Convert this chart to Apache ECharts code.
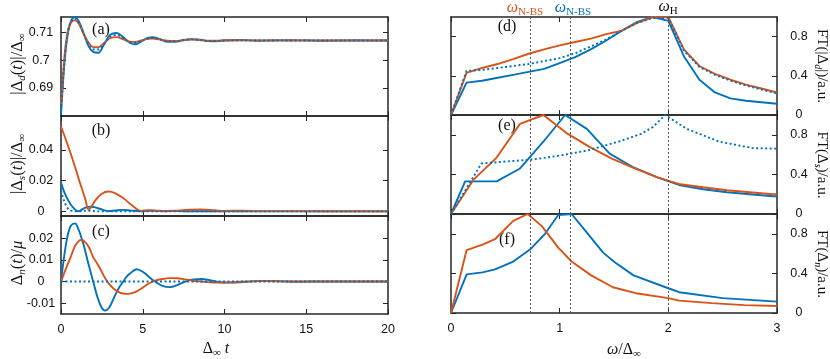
<!DOCTYPE html>
<html>
<head>
<meta charset="utf-8">
<script src="https://cdn.jsdelivr.net/npm/echarts@6/dist/echarts.min.js"></script>
<style>
  html, body { margin: 0; padding: 0; background: #fff; }
  #chart { width: 830px; height: 359px; }
</style>
</head>
<body>
<div id="chart"></div>
<script>
// ---- data ----
// tick labels
const tTicks = [0, 5, 10, 15, 20];
const wTicks = [0, 1, 2, 3];
const aTicks = [0.69, 0.7, 0.71];
const bTicks = [0, 0.02, 0.04];
const cTicks = [-0.01, 0, 0.01, 0.02];
const ftTicks = [0, 0.4, 0.8];
const freqMarks = [0.735, 1.105, 2]; // omega N-BS (orange), omega N-BS (blue), omega H

// (a) |Delta_d(t)|/Delta_inf
const aT = [0, 0.1, 0.25, 0.45, 0.65, 0.86, 1.1, 1.4, 1.7, 2.0, 2.28, 2.6, 3.0, 3.4, 3.8, 4.2, 4.52, 4.9, 5.3, 5.6, 6.0, 6.5, 7.0, 7.5, 8.0, 8.5, 9.0, 9.5, 10, 11, 12, 13, 14, 15, 16, 17, 18, 19, 20];
const aBlue = [0.6805, 0.690, 0.7015, 0.7105, 0.7145, 0.7153, 0.7137, 0.7093, 0.7048, 0.7028, 0.7026, 0.7052, 0.709, 0.7097, 0.7082, 0.7062, 0.7056, 0.7066, 0.7079, 0.7082, 0.7076, 0.7065, 0.7065, 0.7072, 0.7075, 0.7073, 0.7068, 0.7067, 0.707, 0.7072, 0.7069, 0.707, 0.7071, 0.707, 0.7069, 0.707, 0.707, 0.707, 0.707];
const aBlueDot = [0.682, 0.691, 0.7025, 0.711, 0.714, 0.7148, 0.7133, 0.7092, 0.7055, 0.7038, 0.7038, 0.7056, 0.7083, 0.709, 0.7078, 0.7064, 0.7061, 0.7068, 0.7077, 0.7079, 0.7075, 0.7067, 0.7067, 0.7072, 0.7074, 0.7072, 0.7068, 0.7068, 0.707, 0.7071, 0.707, 0.707, 0.707, 0.707, 0.707, 0.707, 0.707, 0.707, 0.707];
const aOrange = [0.6835, 0.692, 0.7035, 0.711, 0.7137, 0.7142, 0.7129, 0.7092, 0.7061, 0.7046, 0.7046, 0.7059, 0.7078, 0.7082, 0.7074, 0.7066, 0.7065, 0.707, 0.7076, 0.7077, 0.7074, 0.7069, 0.7068, 0.7071, 0.7073, 0.7072, 0.7069, 0.7069, 0.7071, 0.7071, 0.707, 0.7071, 0.707, 0.7071, 0.707, 0.707, 0.7071, 0.707, 0.7071];

// (b) |Delta_s(t)|/Delta_inf
const bT = [0, 0.2, 0.45, 0.7, 0.96, 1.1, 1.27, 1.5, 1.67, 1.85, 2.1, 2.5, 2.9, 3.3, 3.8, 4.3, 4.9, 5.4, 5.9, 6.4, 7.0, 7.6, 8.5, 9.4, 10, 11, 12, 14, 16, 20];
const bBlue = [0.0188, 0.0125, 0.007, 0.003, 0.0004, 0.0002, 0.0012, 0.0024, 0.0029, 0.003, 0.0026, 0.0012, 0.0002, 0.0006, 0.001, 0.0005, 0.0001, 0.0004, 0.0003, 0.0001, 0.0002, 0.0001, 0.0001, 0.0001, 0, 0, 0, 0, 0, 0];
const bBlueDot = [0.0135, 0.0065, 0.0015, 0.0002, 0, 0, 0.0002, 0.0004, 0.0004, 0.0003, 0.0001, 0, 0, 0, 0, 0, 0, 0, 0, 0, 0, 0, 0, 0, 0, 0, 0, 0, 0, 0];
const bOrange = [0.055, 0.0495, 0.042, 0.034, 0.0255, 0.0205, 0.015, 0.0075, 0.0012, 0.0028, 0.0072, 0.0115, 0.0129, 0.0119, 0.0087, 0.0043, 0.0003, 0.0008, 0.0005, 0.0003, 0.0004, 0.0009, 0.0012, 0.0007, 0.0003, 0.0005, 0.0002, 0.0002, 0.0001, 0.0001];

// (c) Delta_n(t)/mu
const cT = [0, 0.2, 0.4, 0.6, 0.86, 1.1, 1.22, 1.4, 1.7, 1.97, 2.2, 2.45, 2.69, 2.95, 3.3, 3.6, 3.81, 4.0, 4.2, 4.63, 5.0, 5.4, 5.75, 6.2, 6.67, 7.1, 7.6, 8.1, 8.6, 9.1, 9.6, 10.3, 11, 11.6, 12.5, 13.5, 14.5, 16, 18, 20];
const cBlue = [0, 0.012, 0.021, 0.0258, 0.0269, 0.0235, 0.021, 0.0165, 0.0075, 0, -0.0065, -0.0115, -0.0134, -0.012, -0.0065, -0.0022, 0, 0.0022, 0.0036, 0.0057, 0.0045, 0.002, 0, -0.002, -0.0026, -0.0017, 0, 0.001, 0.0012, 0.0006, -0.0002, -0.0005, -0.0003, 0.0001, 0.0003, 0.0001, -0.0001, 0.0001, 0, 0];
const cBlueDot = [0, 0, 0, 0, 0, 0, 0, 0, 0, 0, 0, 0, 0, 0, 0, 0, 0, 0, 0, 0, 0, 0, 0, 0, 0, 0, 0, 0, 0, 0, 0, 0, 0, 0, 0, 0, 0, 0, 0, 0];
const cOrange = [0, 0.004, 0.0078, 0.0115, 0.0165, 0.0188, 0.0192, 0.0188, 0.016, 0.0112, 0.0085, 0.0052, 0.0016, -0.0012, -0.0038, -0.0051, -0.0055, -0.0057, -0.0056, -0.0045, -0.0028, -0.0008, 0.0004, 0.0012, 0.0016, 0.0015, 0.001, 0.0004, 0, -0.0004, -0.0005, -0.0004, -0.0001, 0.0001, 0.0002, 0.0001, 0, 0, 0, 0];

// (d) FT(|Delta_d|)
const dW = [0, 0.143, 0.286, 0.429, 0.571, 0.714, 0.857, 1, 1.143, 1.286, 1.429, 1.571, 1.714, 1.857, 2, 2.143, 2.286, 2.429, 2.571, 2.714, 2.857, 3];
const dBlue = [0, 0.33, 0.35, 0.38, 0.41, 0.44, 0.47, 0.53, 0.59, 0.67, 0.76, 0.86, 0.95, 1.0, 0.96, 0.6, 0.36, 0.23, 0.17, 0.145, 0.13, 0.115];
const dBlueDot = [0, 0.45, 0.46, 0.48, 0.5, 0.52, 0.55, 0.58, 0.63, 0.7, 0.77, 0.86, 0.94, 0.99, 0.99, 0.66, 0.49, 0.41, 0.35, 0.3, 0.26, 0.22];
const dOrange = [0, 0.43, 0.48, 0.52, 0.57, 0.625, 0.67, 0.71, 0.745, 0.78, 0.825, 0.86, 0.94, 1.0, 1.0, 0.67, 0.5, 0.42, 0.36, 0.31, 0.27, 0.23];

// (e) FT(Delta_s)
const eBlueW = [0, 0.13, 0.42, 0.635, 0.85, 1.05, 1.25, 1.46, 1.68, 1.9, 2.11, 2.32, 2.54, 2.75, 2.96, 3];
const eBlue = [0, 0.33, 0.33, 0.46, 0.73, 1.0, 0.86, 0.61, 0.47, 0.37, 0.29, 0.25, 0.22, 0.2, 0.18, 0.18];
const eBlueDotW = [0, 0.28, 0.5, 0.75, 1.0, 1.25, 1.54, 1.75, 1.86, 1.97, 2.17, 2.47, 2.78, 3];
const eBlueDot = [0, 0.51, 0.53, 0.55, 0.59, 0.64, 0.73, 0.81, 0.88, 1.0, 0.86, 0.73, 0.665, 0.66];
const eOrangeW = [0, 0.21, 0.42, 0.635, 0.85, 1.06, 1.27, 1.48, 1.69, 1.9, 2.11, 2.32, 2.54, 2.75, 2.96, 3];
const eOrange = [0, 0.35, 0.57, 0.91, 1.0, 0.82, 0.68, 0.56, 0.46, 0.37, 0.3, 0.27, 0.24, 0.22, 0.2, 0.2];

// (f) FT(Delta_n)
const fBlueW = [0, 0.144, 0.29, 0.405, 0.573, 0.736, 0.865, 0.987, 1.11, 1.26, 1.4, 1.51, 1.68, 2.0, 2.1, 2.5, 3];
const fBlue = [0, 0.39, 0.41, 0.44, 0.52, 0.65, 0.8, 0.99, 1.0, 0.8, 0.61, 0.51, 0.38, 0.25, 0.21, 0.15, 0.115];
const fOrangeW = [0, 0.144, 0.29, 0.405, 0.573, 0.705, 0.834, 0.987, 1.11, 1.29, 1.49, 1.7, 2.0, 2.1, 2.4, 2.7, 3];
const fOrange = [0, 0.636, 0.69, 0.745, 0.93, 1.0, 0.88, 0.66, 0.52, 0.38, 0.26, 0.2, 0.15, 0.125, 0.1, 0.08, 0.07];

// ---- styling ----
const ORANGE = '#D95319';
const BLUE = '#0072BD';
const FRAME = '#262626';
const SANS = "'Liberation Sans', Arial, sans-serif";
const SERIF = "'Liberation Serif', 'DejaVu Serif', serif";

const panels = [
  { grid: { left: 61, top: 17, width: 327, height: 99 }, x: [0, 20], xTicks: tTicks, y: [0.68, 0.7154], yTicks: aTicks, labelSide: 'left', xLabels: false },
  { grid: { left: 61, top: 116, width: 327, height: 100 }, x: [0, 20], xTicks: tTicks, y: [-0.003, 0.062], yTicks: bTicks, labelSide: 'left', xLabels: false },
  { grid: { left: 61, top: 216, width: 327, height: 98 }, x: [0, 20], xTicks: tTicks, y: [-0.015, 0.0303], yTicks: cTicks, labelSide: 'left', xLabels: true },
  { grid: { left: 451, top: 17, width: 326, height: 98 }, x: [0, 3], xTicks: wTicks, y: [0, 1.0], yTicks: ftTicks, labelSide: 'right', xLabels: false },
  { grid: { left: 451, top: 115, width: 326, height: 99 }, x: [0, 3], xTicks: wTicks, y: [0, 1.0], yTicks: ftTicks, labelSide: 'right', xLabels: false },
  { grid: { left: 451, top: 214, width: 326, height: 99 }, x: [0, 3], xTicks: wTicks, y: [0, 1.0], yTicks: ftTicks, labelSide: 'right', xLabels: true }
];

const grid = [], xAxis = [], yAxis = [];
panels.forEach((p, i) => {
  grid.push(p.grid);
  const tick = { show: true, inside: true, length: 5, lineStyle: { color: FRAME, width: 1 } };
  const axLine = { show: true, onZero: false, lineStyle: { color: FRAME, width: 1.5 } };
  ['bottom', 'top'].forEach(pos => {
    xAxis.push({
      type: 'value', gridIndex: i, position: pos, min: p.x[0], max: p.x[1],
      axisLine: axLine,
      axisTick: Object.assign({ customValues: p.xTicks }, tick),
      axisLabel: { show: pos === 'bottom' && p.xLabels, customValues: p.xTicks, margin: 9,
        fontFamily: SANS, fontSize: 12.5, color: '#111' },
      splitLine: { show: false }
    });
  });
  ['left', 'right'].forEach(pos => {
    yAxis.push({
      type: 'value', gridIndex: i, position: pos, min: p.y[0], max: p.y[1],
      axisLine: axLine,
      axisTick: Object.assign({ customValues: p.yTicks }, tick),
      axisLabel: { show: pos === p.labelSide, customValues: p.yTicks, align: 'center',
        margin: pos === 'left' ? 20 : 22, fontFamily: SANS, fontSize: 12.5, color: '#111' },
      splitLine: { show: false }
    });
  });
});

function pairs(xs, ys) { return xs.map((x, k) => [x, ys[k]]); }
function curve(i, xs, ys, color, dotted, smooth) {
  return {
    type: 'line', xAxisIndex: 2 * i, yAxisIndex: 2 * i,
    data: pairs(xs, ys), symbol: 'none', showSymbol: false,
    smooth: smooth ? 0.35 : false,
    lineStyle: { color: color, width: 1.9, type: dotted ? [2, 2.5] : 'solid' },
    z: dotted ? 4 : 3, animation: false, silent: true
  };
}
function marks(i) {
  return {
    type: 'line', xAxisIndex: 2 * i, yAxisIndex: 2 * i, data: [], silent: true, animation: false,
    markLine: {
      silent: true, symbol: 'none', animation: false, label: { show: false },
      lineStyle: { color: '#555', width: 1, type: [2, 2] },
      data: freqMarks.map(v => ({ xAxis: v }))
    }
  };
}

const series = [
  curve(0, aT, aBlue, BLUE, false, true),
  curve(0, aT, aBlueDot, BLUE, true, true),
  curve(0, aT, aOrange, ORANGE, false, true),
  curve(1, bT, bBlue, BLUE, false, true),
  curve(1, bT, bBlueDot, BLUE, true, true),
  curve(1, bT, bOrange, ORANGE, false, true),
  curve(2, cT, cBlue, BLUE, false, true),
  curve(2, cT, cOrange, ORANGE, false, true),
  curve(2, cT, cBlueDot, BLUE, true, false),
  marks(3), marks(4), marks(5),
  curve(3, dW, dBlue, BLUE, false, false),
  curve(3, dW, dOrange, ORANGE, false, false),
  curve(3, dW, dBlueDot, BLUE, true, false),
  curve(4, eBlueW, eBlue, BLUE, false, false),
  curve(4, eOrangeW, eOrange, ORANGE, false, false),
  curve(4, eBlueDotW, eBlueDot, BLUE, true, false),
  curve(5, fBlueW, fBlue, BLUE, false, false),
  curve(5, fOrangeW, fOrange, ORANGE, false, false)
];

function rich(color, size) {
  size = size || 15;
  const sub = Math.round(size * 0.68);
  return {
    m: { fontFamily: SERIF, fontSize: size, lineHeight: size + 3, fill: color, verticalAlign: 'middle' },
    i: { fontFamily: SERIF, fontStyle: 'italic', fontSize: size, lineHeight: size + 3, fill: color, verticalAlign: 'middle' },
    s: { fontFamily: SERIF, fontStyle: 'italic', fontSize: sub, lineHeight: sub, fill: color, verticalAlign: 'bottom' },
    u: { fontFamily: SERIF, fontSize: sub, lineHeight: sub, fill: color, verticalAlign: 'bottom' }
  };
}
function label(text, x, y, rot, color, size) {
  color = color || '#111';
  return {
    type: 'text', x: x, y: y, rotation: rot || 0, silent: true,
    style: { text: text, rich: rich(color, size), fill: color, align: 'center', verticalAlign: 'middle',
      textAlign: 'center', textVerticalAlign: 'middle' }
  };
}

const graphic = [
  label('{m||Δ}{s|d}{m|(}{i|t}{m|)|/Δ}{u|∞}', 18, 64, Math.PI / 2, '#111', 16.5),
  label('{m||Δ}{s|s}{m|(}{i|t}{m|)|/Δ}{u|∞}', 18, 164, Math.PI / 2, '#111', 16.5),
  label('{m|Δ}{s|n}{m|(}{i|t}{m|)/}{i|μ}', 18, 263, Math.PI / 2, '#111', 16.5),
  label('{m|Δ}{u|∞}{i| t}', 216, 349, 0, '#111', 16),
  label('{i|ω}{m|/Δ}{u|∞}', 624, 350, 0, '#111', 16),
  label('{m|FT(|Δ}{s|d}{m||)/a.u.}', 822, 66, -Math.PI / 2),
  label('{m|FT(Δ}{s|s}{m|)/a.u.}', 822, 165, -Math.PI / 2),
  label('{m|FT(Δ}{s|n}{m|)/a.u.}', 822, 264, -Math.PI / 2),
  label('{m|(a)}', 101, 30, 0, '#111', 16),
  label('{m|(b)}', 101, 131, 0, '#111', 16),
  label('{m|(c)}', 101, 232, 0, '#111', 16),
  label('{m|(d)}', 507, 27, 0, '#111', 16),
  label('{m|(e)}', 507, 126, 0, '#111', 16),
  label('{m|(f)}', 507, 240, 0, '#111', 16),
  label('{i|ω}{u|N-BS}', 525, 8, 0, ORANGE, 16),
  label('{i|ω}{u|N-BS}', 573, 8, 0, BLUE, 16),
  label('{i|ω}{u|H}', 668, 7, 0, '#111', 16)
];

const chart = echarts.init(document.getElementById('chart'), null, { renderer: 'canvas' });
chart.setOption({
  animation: false,
  backgroundColor: '#fff',
  grid: grid,
  xAxis: xAxis,
  yAxis: yAxis,
  series: series,
  graphic: graphic
});
window.addEventListener('resize', () => chart.resize());
</script>
</body>
</html>
